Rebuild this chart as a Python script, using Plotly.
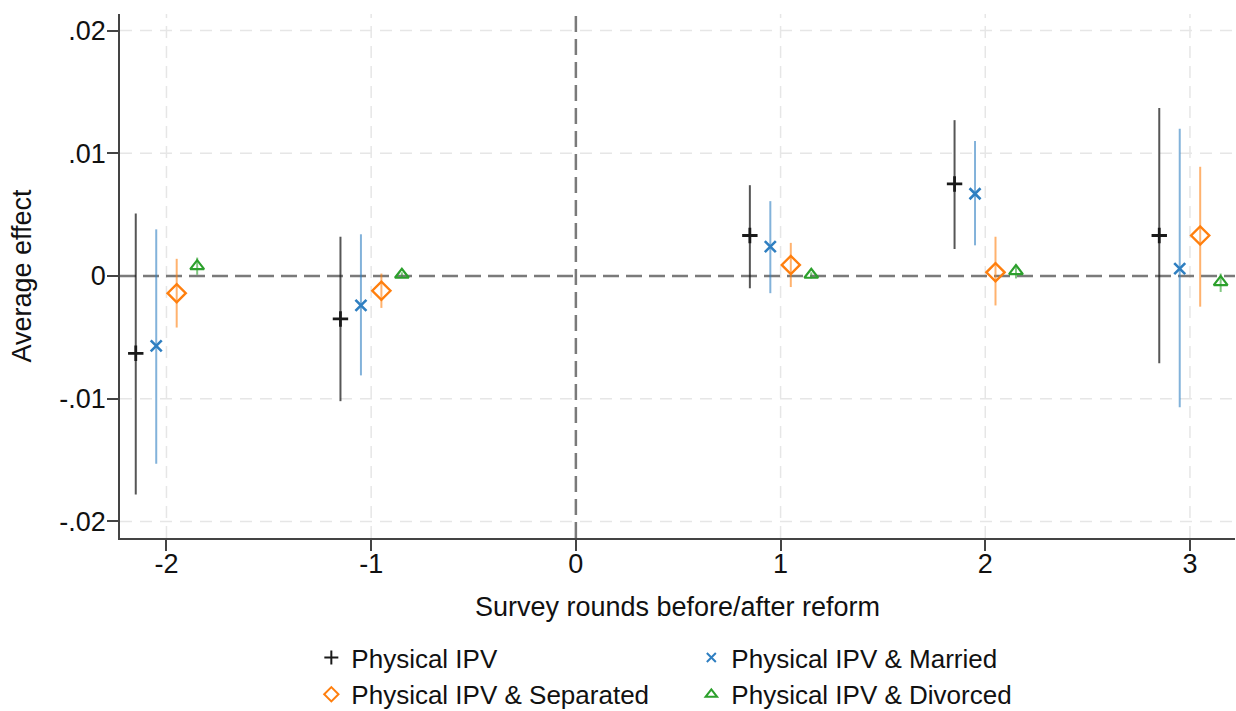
import plotly.graph_objects as go

# Survey rounds relative to the reform
rounds = [-2, -1, 1, 2, 3]

# Point estimates and 95% confidence bounds per outcome
ipv_est = [-0.0063, -0.0035, 0.0033, 0.0075, 0.0033]
ipv_lo = [-0.0178, -0.0102, -0.0010, 0.0022, -0.0071]
ipv_hi = [0.0051, 0.0032, 0.0074, 0.0127, 0.0137]

married_est = [-0.0057, -0.0024, 0.0024, 0.0067, 0.0006]
married_lo = [-0.0153, -0.0081, -0.0014, 0.0025, -0.0107]
married_hi = [0.0038, 0.0034, 0.0061, 0.0110, 0.0120]

separated_est = [-0.0014, -0.0012, 0.0009, 0.0003, 0.0033]
separated_lo = [-0.0042, -0.0026, -0.0009, -0.0024, -0.0025]
separated_hi = [0.0014, 0.0002, 0.0027, 0.0032, 0.0089]

divorced_est = [0.0008, 0.0001, 0.0001, 0.0004, -0.0005]
divorced_lo = [0.0001, -0.0001, -0.0002, -0.0002, -0.0013]
divorced_hi = [0.0015, 0.0003, 0.0003, 0.0009, 0.0002]

series_names = [
    "Physical IPV",
    "Physical IPV & Married",
    "Physical IPV & Separated",
    "Physical IPV & Divorced",
]

x_tick_vals = [-2, -1, 0, 1, 2, 3]
x_tick_text = ["-2", "-1", "0", "1", "2", "3"]
y_tick_vals = [-0.02, -0.01, 0, 0.01, 0.02]
y_tick_text = ["-.02", "-.01", "0", ".01", ".02"]

# Styling for each series: horizontal dodge, marker, colours
styles = [
    dict(dodge=-0.15, symbol="cross-thin-open", size=11, lw=2.8,
         color="#1a1a1a", ci="rgba(30,30,30,0.75)", leg_size=10),
    dict(dodge=-0.05, symbol="x-thin-open", size=11, lw=2.6,
         color="#2f7fc1", ci="rgba(47,127,193,0.6)", leg_size=9),
    dict(dodge=0.05, symbol="diamond-open", size=14, lw=2.4,
         color="#ff7f0e", ci="rgba(255,127,14,0.6)", leg_size=11),
    dict(dodge=0.15, symbol="triangle-up-open", size=12, lw=2.2,
         color="#2ca02c", ci="rgba(44,160,44,0.6)", leg_size=10),
]

estimates = [ipv_est, married_est, separated_est, divorced_est]
lows = [ipv_lo, married_lo, separated_lo, divorced_lo]
highs = [ipv_hi, married_hi, separated_hi, divorced_hi]

FONT = "Liberation Sans, Arial, sans-serif"
GRID = dict(color="#e6e6e6", width=1.5, dash="12px,8px")
REF = dict(color="#7a7a7a", width=2.5, dash="16px,7px")

fig = go.Figure()

# Light dashed grid at every non-zero tick (zero gets its own reference line)
for v in x_tick_vals:
    if v != 0:
        fig.add_shape(type="line", xref="x", yref="paper", x0=v, x1=v, y0=0, y1=1,
                      line=GRID, layer="below")
for v in y_tick_vals:
    if v != 0:
        fig.add_shape(type="line", xref="paper", yref="y", x0=0, x1=1, y0=v, y1=v,
                      line=GRID, layer="below")

# Reference lines at zero effect and at the reform
fig.add_shape(type="line", xref="paper", yref="y", x0=0, x1=1, y0=0, y1=0,
              line=REF, layer="below")
fig.add_shape(type="line", xref="x", yref="paper", x0=0, x1=0, y0=0, y1=1,
              line=REF, layer="below")

for name, est, lo, hi, st in zip(series_names, estimates, lows, highs, styles):
    xs = [r + st["dodge"] for r in rounds]
    fig.add_trace(go.Scatter(
        x=xs, y=est, mode="markers", name=name, showlegend=False,
        marker=dict(symbol=st["symbol"], size=st["size"], color=st["color"],
                    line=dict(color=st["color"], width=st["lw"])),
        error_y=dict(type="data", symmetric=False,
                     array=[h - e for h, e in zip(hi, est)],
                     arrayminus=[e - l for e, l in zip(est, lo)],
                     color=st["ci"], thickness=2, width=0),
    ))

# Legend entries with smaller symbols
for name, st in zip(series_names, styles):
    fig.add_trace(go.Scatter(
        x=[None], y=[None], mode="markers", name=name,
        marker=dict(symbol=st["symbol"], size=st["leg_size"], color=st["color"],
                    line=dict(color=st["color"], width=2)),
    ))

axis_common = dict(
    showline=True, linecolor="#444444", linewidth=1.5,
    ticks="outside", ticklen=11, tickwidth=1.5, tickcolor="#444444",
    showgrid=False, zeroline=False, automargin=False,
    tickfont=dict(family=FONT, size=27, color="#111111"),
    title_font=dict(family=FONT, size=27, color="#111111"),
)

fig.update_layout(
    width=1236, height=711,
    margin=dict(l=120, r=1, t=14, b=173),
    paper_bgcolor="white", plot_bgcolor="white",
    font=dict(family=FONT, size=27, color="#111111"),
    xaxis=dict(range=[-2.227, 3.22], tickvals=x_tick_vals, ticktext=x_tick_text,
               ticklabelstandoff=-10,
               title=dict(text="Survey rounds before/after reform", standoff=19),
               **axis_common),
    yaxis=dict(range=[-0.02135, 0.02135], tickvals=y_tick_vals, ticktext=y_tick_text,
               ticklabelstandoff=-4,
               title=dict(text="Average effect", standoff=20),
               **axis_common),
    legend=dict(orientation="h", xref="paper", x=0.1716, xanchor="left",
                yref="container", y=0.1082, yanchor="top",
                entrywidth=335, font=dict(family=FONT, size=26, color="#111111"),
                bgcolor="rgba(0,0,0,0)"),
    showlegend=True,
)

fig.write_html("out.html")
